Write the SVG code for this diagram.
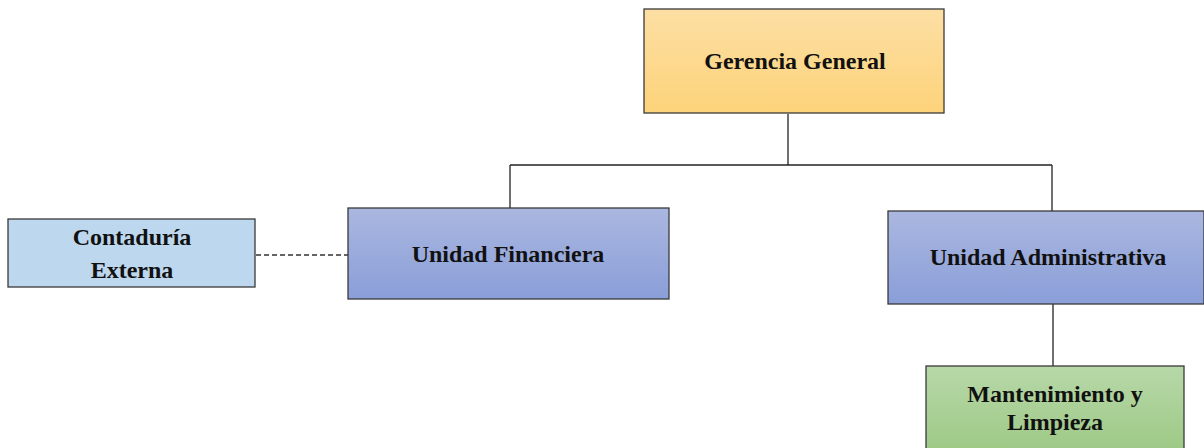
<svg xmlns="http://www.w3.org/2000/svg" width="1204" height="448" viewBox="0 0 1204 448">
  <style>
    .box { stroke: #3a3a3a; stroke-width: 1.3; }
    .lbl { font-family: "Liberation Serif", "Times New Roman", serif; font-weight: bold; font-size: 24px; fill: #111; text-anchor: middle; }
    .link { stroke: #222; stroke-width: 1.3; fill: none; }
    .dash { stroke: #333; stroke-width: 1.3; stroke-dasharray: 5 3; fill: none; }
  </style>
  <defs>
    <linearGradient id="gOrange" x1="0" y1="0" x2="0" y2="1">
      <stop offset="0" stop-color="#FDDFA4"/>
      <stop offset="1" stop-color="#FDD37A"/>
    </linearGradient>
    <linearGradient id="gBlue" x1="0" y1="0" x2="0" y2="1">
      <stop offset="0" stop-color="#AAB7E0"/>
      <stop offset="1" stop-color="#8A9ED8"/>
    </linearGradient>
    <linearGradient id="gGreen" x1="0" y1="0" x2="0" y2="1">
      <stop offset="0" stop-color="#B7D8A8"/>
      <stop offset="1" stop-color="#9CC884"/>
    </linearGradient>
  </defs>

  <g id="connectors">
    <path class="link" d="M788 114 V165"/>
    <path class="link" d="M510 165 H1052"/>
    <path class="link" d="M510 165 V208"/>
    <path class="link" d="M1052 165 V211"/>
    <path class="link" d="M1053 304 V366"/>
    <path class="dash" d="M256 255 H348"/>
  </g>

  <g id="gerencia-general">
    <rect class="box" x="644" y="9" width="300" height="104" fill="url(#gOrange)"/>
    <text class="lbl" x="795" y="69">Gerencia General</text>
  </g>

  <g id="unidad-financiera">
    <rect class="box" x="348" y="208" width="321" height="91" fill="url(#gBlue)"/>
    <text class="lbl" x="508" y="262">Unidad Financiera</text>
  </g>

  <g id="unidad-administrativa">
    <rect class="box" x="888" y="211" width="316" height="93" fill="url(#gBlue)"/>
    <text class="lbl" x="1048" y="265">Unidad Administrativa</text>
  </g>

  <g id="contaduria-externa">
    <rect class="box" x="8" y="219" width="247" height="68" fill="#BDD7EE"/>
    <text class="lbl" x="132" y="245">Contaduría</text>
    <text class="lbl" x="132" y="278">Externa</text>
  </g>

  <g id="mantenimiento-limpieza">
    <rect class="box" x="926" y="366" width="258" height="90" fill="url(#gGreen)"/>
    <text class="lbl" x="1055" y="402">Mantenimiento y</text>
    <text class="lbl" x="1055" y="430">Limpieza</text>
  </g>
</svg>
